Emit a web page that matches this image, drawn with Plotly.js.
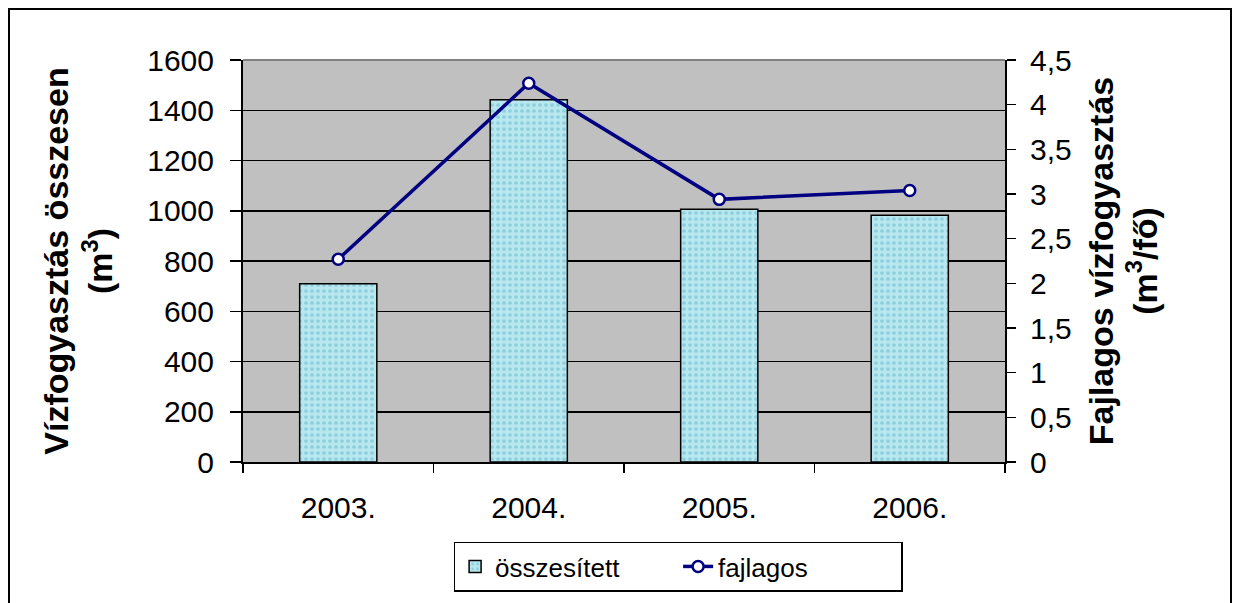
<!DOCTYPE html>
<html><head><meta charset="utf-8">
<script src="https://cdn.plot.ly/plotly-3.0.1.min.js"></script>
<style>
html,body{margin:0;padding:0;background:#fff;}
#wrap{position:relative;width:1240px;height:603px;}
#chart{width:1240px;height:603px;}
#frame{position:absolute;left:8px;top:8px;width:1224px;height:600px;border:2px solid #000;box-sizing:border-box;pointer-events:none;}
</style></head>
<body>
<div id="wrap"><div id="chart"></div><div id="frame"></div></div>
<script>
const years = ['2003.', '2004.', '2005.', '2006.'];
const osszesitett = [709, 1442, 1006, 982];
const fajlagos = [2.27, 4.24, 2.94, 3.04];

const font = 'Liberation Sans, Arial, sans-serif';

const traces = [
  {
    type: 'bar', name: 'összesített', x: years, y: osszesitett,
    marker: {
      color: '#b5e5ee',
      line: {color: '#000', width: 1.5},
      pattern: {shape: '.', fgcolor: '#8ccfdc', bgcolor: '#b9e7ef', size: 6, solidity: 0.3, fillmode: 'replace'}
    },
    yaxis: 'y'
  },
  {
    type: 'scatter', mode: 'lines+markers', name: 'fajlagos', x: years, y: fajlagos,
    line: {color: '#000080', width: 3.5},
    marker: {symbol: 'circle', size: 11, color: '#fff', line: {color: '#000080', width: 2.5}},
    yaxis: 'y2'
  }
];

const layout = {
  width: 1240, height: 603,
  margin: {l: 243, r: 235, t: 60, b: 139},
  paper_bgcolor: '#fff',
  plot_bgcolor: '#c0c0c0',
  separators: ', ',
  font: {family: font, size: 30, color: '#000'},
  bargap: 0.595,
  showlegend: true,
  legend: {
    orientation: 'h', x: 0.571, xanchor: 'center', y: -0.26, yanchor: 'middle',
    bordercolor: '#000', borderwidth: 1.5, bgcolor: '#fff',
    font: {family: font, size: 26, color: '#000'},
    entrywidth: 178, traceorder: 'normal'
  },
  xaxis: {
    type: 'category', showline: true, linecolor: '#000', linewidth: 2,
    ticks: 'outside', tickson: 'boundaries', ticklen: 9, tickcolor: '#000', tickwidth: 1.5,
    ticklabelstandoff: 18, showgrid: false, zeroline: false,
    tickfont: {family: font, size: 30}
  },
  yaxis: {
    range: [0, 1600], dtick: 200, tick0: 0,
    showline: true, linecolor: '#000', linewidth: 2,
    ticks: 'outside', ticklen: 11, tickcolor: '#000', tickwidth: 1.5,
    ticklabelstandoff: 10,
    showgrid: true, gridcolor: '#000', gridwidth: 1.5, zeroline: false,
    tickfont: {family: font, size: 30},
    title: {text: '<b>Vízfogyasztás összesen<br>(m<sup>3</sup>)</b>', font: {family: font, size: 34}, standoff: 24}
  },
  yaxis2: {
    overlaying: 'y', side: 'right', range: [0, 4.5], dtick: 0.5, tick0: 0,
    showline: true, linecolor: '#000', linewidth: 2,
    ticks: 'outside', ticklen: 9, tickcolor: '#000', tickwidth: 1.5,
    ticklabelstandoff: 8,
    showgrid: false, zeroline: false,
    tickfont: {family: font, size: 30},
    title: {text: '<b>Fajlagos vízfogyasztás<br>(m<sup>3</sup>/fő)</b>', font: {family: font, size: 34}, standoff: 18}
  },
  shapes: [
    {type: 'line', xref: 'paper', yref: 'paper', x0: 0, x1: 1, y0: 1, y1: 1, line: {color: '#808080', width: 2}}
  ]
};

Plotly.newPlot('chart', traces, layout, {displayModeBar: false, staticPlot: true});
</script>
</body></html>
